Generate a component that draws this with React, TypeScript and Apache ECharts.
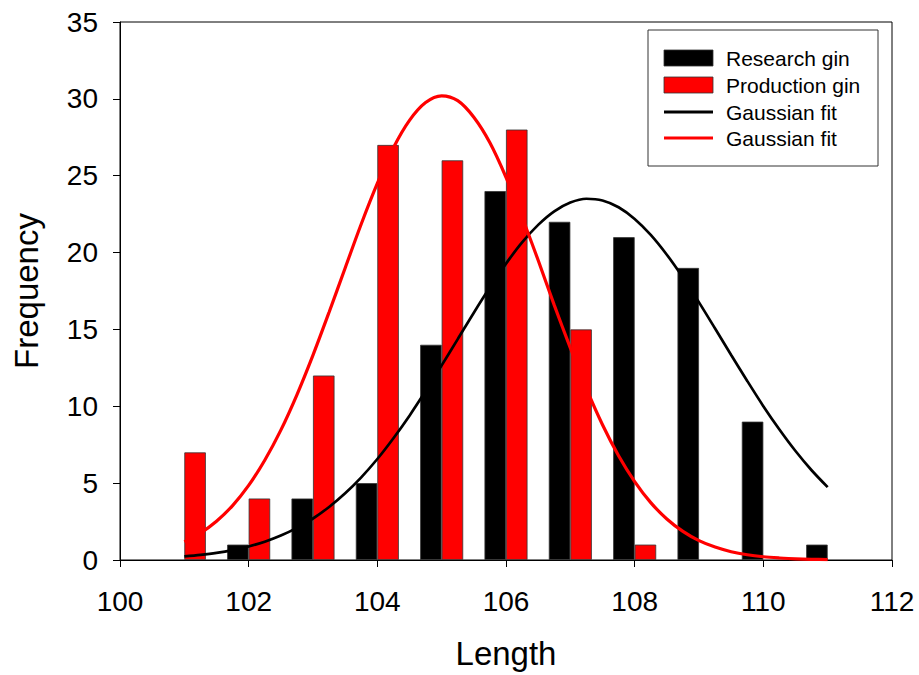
import React, { useEffect, useRef } from "react";
import * as echarts from "echarts";

// Histogram bins (length values)
const lengths = [101, 102, 103, 104, 105, 106, 107, 108, 109, 110, 111];
const researchCounts = [0, 1, 4, 5, 14, 24, 22, 21, 19, 9, 1];
const productionCounts = [7, 4, 12, 27, 26, 28, 15, 1, 0, 0, 0];

// Gaussian fit curves
const fitX = [
  101, 101.25, 101.5, 101.75, 102, 102.25, 102.5, 102.75, 103, 103.25, 103.5, 103.75,
  104, 104.25, 104.5, 104.75, 105, 105.25, 105.5, 105.75, 106, 106.25, 106.5, 106.75,
  107, 107.25, 107.5, 107.75, 108, 108.25, 108.5, 108.75, 109, 109.25, 109.5, 109.75,
  110, 110.25, 110.5, 110.75, 111,
];
const researchFit = [
  0.23, 0.33, 0.46, 0.64, 0.88, 1.19, 1.59, 2.09, 2.7, 3.45, 4.34, 5.38,
  6.57, 7.92, 9.39, 10.99, 12.66, 14.37, 16.09, 17.74, 19.28, 20.66, 21.8, 22.68,
  23.25, 23.5, 23.39, 22.95, 22.19, 21.15, 19.86, 18.38, 16.76, 15.06, 13.34, 11.65,
  10.01, 8.49, 7.09, 5.84, 4.74,
];
const productionFit = [
  1.18, 1.75, 2.52, 3.54, 4.85, 6.49, 8.45, 10.75, 13.33, 16.12, 19.0, 21.86,
  24.5, 26.82, 28.6, 29.76, 30.2, 29.88, 28.8, 27.14, 24.9, 22.3, 19.5, 16.58,
  13.8, 11.15, 8.8, 6.78, 5.1, 3.73, 2.67, 1.86, 1.26, 0.84, 0.54, 0.34,
  0.21, 0.13, 0.07, 0.04, 0.03,
];

const legendLabels = ["Research gin", "Production gin", "Gaussian fit", "Gaussian fit"];

const FONT = "'Liberation Sans', Arial, Helvetica, sans-serif";

export default function App() {
  const ref = useRef<HTMLDivElement>(null);

  useEffect(() => {
    if (!ref.current) return;
    const chart = echarts.init(ref.current, null, { renderer: "svg" });

    const legendX = 648;
    const legendY = 30;
    const rowY = [58, 85, 112, 138];

    const barData = (counts: number[]) =>
      lengths.map((x, i) => (counts[i] > 0 ? [x, counts[i]] : [x, null]));

    const option: any = {
      animation: false,
      backgroundColor: "#fff",
      textStyle: { fontFamily: FONT },
      grid: {
        left: 120,
        right: 27,
        top: 22,
        bottom: 114,
        show: true,
        borderColor: "#000",
        borderWidth: 1,
        backgroundColor: "transparent",
      },
      xAxis: {
        type: "value",
        min: 100,
        max: 112,
        interval: 2,
        name: "Length",
        nameLocation: "middle",
        nameGap: 77,
        nameTextStyle: { fontSize: 33, color: "#000", fontFamily: FONT },
        axisLine: { lineStyle: { color: "#000", width: 1 } },
        axisTick: { show: true, inside: false, length: 7, lineStyle: { color: "#000" } },
        axisLabel: { fontSize: 28, color: "#000", margin: 27, fontFamily: FONT },
        splitLine: { show: false },
      },
      yAxis: {
        type: "value",
        min: 0,
        max: 35,
        interval: 5,
        name: "Frequency",
        nameLocation: "middle",
        nameGap: 77,
        nameRotate: 90,
        nameTextStyle: { fontSize: 33, color: "#000", fontFamily: FONT },
        axisLine: { show: true, lineStyle: { color: "#000", width: 1 } },
        axisTick: { show: true, inside: false, length: 7, lineStyle: { color: "#000" } },
        axisLabel: { fontSize: 28, color: "#000", margin: 22, fontFamily: FONT },
        splitLine: { show: false },
      },
      series: [
        {
          name: "Research gin",
          type: "bar",
          data: barData(researchCounts),
          barWidth: 21.5,
          barGap: "0%",
          itemStyle: { color: "#000", borderColor: "#333", borderWidth: 0.8 },
        },
        {
          name: "Production gin",
          type: "bar",
          data: barData(productionCounts),
          barWidth: 21.5,
          barGap: "0%",
          itemStyle: { color: "#ff0000", borderColor: "#333", borderWidth: 0.8 },
        },
        {
          name: "Research fit",
          type: "line",
          data: fitX.map((x, i) => [x, researchFit[i]]),
          smooth: 0.3,
          showSymbol: false,
          lineStyle: { color: "#000", width: 2.7 },
          z: 3,
        },
        {
          name: "Production fit",
          type: "line",
          data: fitX.map((x, i) => [x, productionFit[i]]),
          smooth: 0.3,
          showSymbol: false,
          lineStyle: { color: "#ff0000", width: 3.2 },
          z: 4,
        },
      ],
      graphic: [
        {
          type: "rect",
          shape: { x: legendX, y: legendY, width: 230, height: 136 },
          style: { fill: "#fff", stroke: "#333", lineWidth: 1 },
          z: 10,
        },
        {
          type: "rect",
          shape: { x: 664, y: rowY[0] - 8, width: 49, height: 16 },
          style: { fill: "#000", stroke: "#333", lineWidth: 0.8 },
          z: 11,
        },
        {
          type: "rect",
          shape: { x: 664, y: rowY[1] - 8, width: 49, height: 16 },
          style: { fill: "#ff0000", stroke: "#333", lineWidth: 0.8 },
          z: 11,
        },
        {
          type: "line",
          shape: { x1: 664, y1: rowY[2], x2: 713, y2: rowY[2] },
          style: { stroke: "#000", lineWidth: 3 },
          z: 11,
        },
        {
          type: "line",
          shape: { x1: 664, y1: rowY[3], x2: 713, y2: rowY[3] },
          style: { stroke: "#ff0000", lineWidth: 3 },
          z: 11,
        },
        ...legendLabels.map((label, i) => ({
          type: "text",
          x: 726,
          y: rowY[i],
          style: {
            text: label,
            fill: "#000",
            fontSize: 21,
            fontFamily: FONT,
            verticalAlign: "middle",
            align: "left",
          },
          z: 11,
        })),
      ],
    };

    chart.setOption(option);
    return () => chart.dispose();
  }, []);

  return (
    <div
      ref={ref}
      style={{ position: "absolute", left: 0, top: 0, width: 919, height: 675 }}
    />
  );
}
